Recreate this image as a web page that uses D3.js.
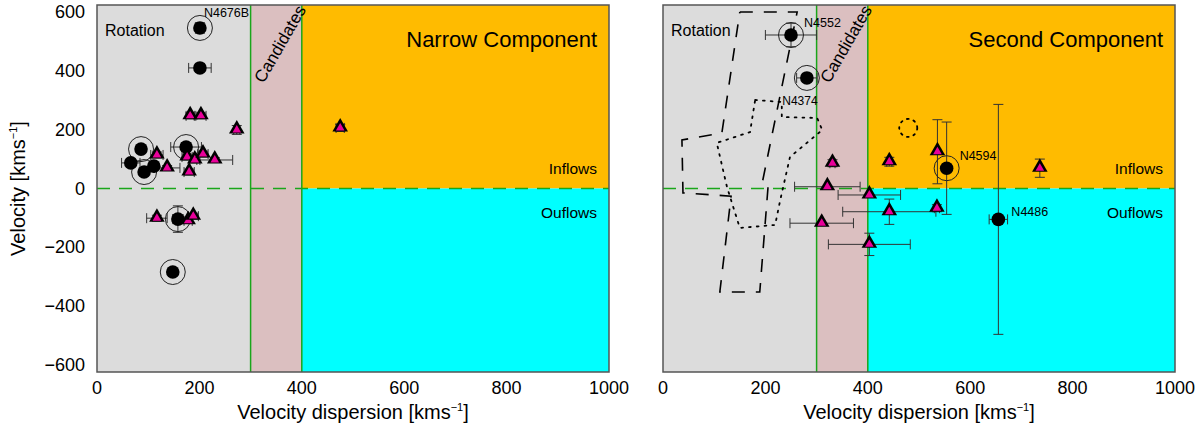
<!DOCTYPE html>
<html><head><meta charset="utf-8">
<script src="https://cdn.jsdelivr.net/npm/d3@7"></script>
<style>body{margin:0;background:#fff}svg{display:block}text{font-family:"Liberation Sans",Arial,Helvetica,sans-serif}</style>
</head><body><svg id="c" width="1200" height="431"></svg>
<script>
// ---------- data ----------
const xTicks = [0, 200, 400, 600, 800, 1000];
const yTicks = [600, 400, 200, 0, -200, -400, -600];
const rotationLimit = 300, candidateLimit = 400;
const panelTitles = ["Narrow Component", "Second Component"];

// x, y, xerr, yerr, ring, label
const narrowCircles = [
  {x:201, y:546, xe:0,  ye:18, ring:true,  label:"N4676B"},
  {x:201, y:410, xe:22, ye:0,  ring:false},
  {x:86,  y:134, xe:0,  ye:0,  ring:true},
  {x:66,  y:87,  xe:18, ye:0,  ring:false},
  {x:92,  y:56,  xe:0,  ye:0,  ring:true},
  {x:111, y:76,  xe:0,  ye:0,  ring:false},
  {x:174, y:141, xe:30, ye:15, ring:true},
  {x:158, y:-104,xe:10, ye:45, ring:true},
  {x:148, y:-284,xe:6,  ye:0,  ring:true}
];
const narrowTriangles = [
  {x:182, y:247, xe:8,  ye:10},
  {x:203, y:247, xe:10, ye:10},
  {x:273, y:199, xe:6,  ye:15},
  {x:117, y:114, xe:12, ye:10},
  {x:137, y:70,  xe:25, ye:8},
  {x:176, y:107, xe:10, ye:10},
  {x:191, y:97,  xe:10, ye:10},
  {x:207, y:117, xe:10, ye:10},
  {x:230, y:97,  xe:35, ye:8},
  {x:180, y:56,  xe:10, ye:10},
  {x:117, y:-101,xe:20, ye:10},
  {x:178, y:-110,xe:8,  ye:8},
  {x:188, y:-94, xe:10, ye:10},
  {x:475, y:206, xe:8,  ye:12}
];
const secondCircles = [
  {x:250, y:522, xe:50, ye:40,  ring:true,  label:"N4552"},
  {x:281, y:376, xe:20, ye:0,   ring:true},
  {x:554, y:69,  xe:8,  ye:157, ring:true,  label:"N4594"},
  {x:655, y:-105,xe:18, ye:391, ring:false, label:"N4486"}
];
const secondTriangles = [
  {x:331, y:86,  xe:5,  ye:12},
  {x:442, y:91,  xe:5,  ye:15},
  {x:536, y:125, xe:0,  ye:109},
  {x:321, y:6,   xe:64, ye:0},
  {x:403, y:-22, xe:61, ye:0},
  {x:442, y:-79, xe:91, ye:43},
  {x:535, y:-67, xe:5,  ye:12},
  {x:310, y:-118,xe:62, ye:0},
  {x:403, y:-190,xe:80, ye:38},
  {x:736, y:69,  xe:0,  ye:31}
];
// contours in the second panel
const dashedContour = [[150,600],[262,600],[193,12],[205,2],[189,-352],[111,-352],[133,-26],[39,-15],[37,165],[115,189],[150,600]];
const dottedContour = [[180,301],[232,294],[232,243],[301,240],[311,199],[248,107],[229,-39],[219,-124],[150,-134],[125,5],[105,155],[170,192],[180,301]];
const dottedCircle = {x:479, y:206};
const contourLabel = {x:233, y:285, text:"N4374"};

// ---------- drawing ----------
const svg = d3.select("#c");
const panels = [
  {x0:97,  circles:narrowCircles, tris:narrowTriangles, title:panelTitles[0], yLabels:true, extra:false},
  {x0:663, circles:secondCircles, tris:secondTriangles, title:panelTitles[1], yLabels:false, extra:true}
];
const W = 512, plotTop = 5, plotBottom = 372;
const y = d3.scaleLinear().domain([-624, 624]).range([plotBottom, plotTop]);

panels.forEach(p => {
  const x = d3.scaleLinear().domain([0, 1000]).range([p.x0, p.x0 + W]);
  const g = svg.append("g");
  // regions
  g.append("rect").attr("x", x(0)).attr("y", y(624)).attr("width", x(rotationLimit)-x(0)).attr("height", y(-624)-y(624)).attr("fill", "#dcdcdc");
  g.append("rect").attr("x", x(rotationLimit)).attr("y", y(624)).attr("width", x(candidateLimit)-x(rotationLimit)).attr("height", y(-624)-y(624)).attr("fill", "#dbbfc0");
  g.append("rect").attr("x", x(candidateLimit)).attr("y", y(624)).attr("width", x(1000)-x(candidateLimit)).attr("height", y(0)-y(624)).attr("fill", "#ffbb00");
  g.append("rect").attr("x", x(candidateLimit)).attr("y", y(0)).attr("width", x(1000)-x(candidateLimit)).attr("height", y(-624)-y(0)).attr("fill", "#00ffff");
  [rotationLimit, candidateLimit].forEach(v => g.append("line").attr("x1", x(v)).attr("x2", x(v)).attr("y1", y(624)).attr("y2", y(-624)).attr("stroke", "#1aa61a").attr("stroke-width", 1.5));
  g.append("line").attr("x1", x(0)).attr("x2", x(1000)).attr("y1", y(0)).attr("y2", y(0))
    .attr("stroke", "#1aa61a").attr("stroke-width", 1.5).attr("stroke-dasharray", "13,9");

  if (p.extra) {
    const line = d3.line().x(d => x(d[0])).y(d => y(d[1]));
    g.append("path").attr("d", line(dashedContour)).attr("fill", "none").attr("stroke", "#000").attr("stroke-width", 1.6).attr("stroke-dasharray", "13,11");
    g.append("path").attr("d", line(dottedContour)).attr("fill", "none").attr("stroke", "#000").attr("stroke-width", 1.8).attr("stroke-dasharray", "1.8,6").attr("stroke-linecap","round");
    g.append("circle").attr("cx", x(dottedCircle.x)).attr("cy", y(dottedCircle.y)).attr("r", 9).attr("fill", "none").attr("stroke", "#000").attr("stroke-width", 1.8).attr("stroke-dasharray", "1.8,5").attr("stroke-linecap","round");
    g.append("text").attr("x", x(contourLabel.x)).attr("y", y(contourLabel.y)).attr("font-size", 12).text(contourLabel.text);
  }

  // error bars
  const all = p.circles.concat(p.tris);
  const eb = g.append("g").attr("stroke", "#333").attr("stroke-width", 1).attr("fill", "none");
  const cap = 5;
  all.forEach(d => {
    if (d.xe > 0) {
      eb.append("line").attr("x1", x(d.x-d.xe)).attr("x2", x(d.x+d.xe)).attr("y1", y(d.y)).attr("y2", y(d.y));
      [d.x-d.xe, d.x+d.xe].forEach(v => eb.append("line").attr("x1", x(v)).attr("x2", x(v)).attr("y1", y(d.y)-cap).attr("y2", y(d.y)+cap));
    }
    if (d.ye > 0) {
      eb.append("line").attr("x1", x(d.x)).attr("x2", x(d.x)).attr("y1", y(d.y-d.ye)).attr("y2", y(d.y+d.ye));
      [d.y-d.ye, d.y+d.ye].forEach(v => eb.append("line").attr("y1", y(v)).attr("y2", y(v)).attr("x1", x(d.x)-cap).attr("x2", x(d.x)+cap));
    }
  });

  // rings and dots
  p.circles.forEach(d => {
    if (d.ring) g.append("circle").attr("cx", x(d.x)).attr("cy", y(d.y)).attr("r", 12.5).attr("fill", "none").attr("stroke", "#222").attr("stroke-width", 1);
  });
  p.circles.forEach(d => {
    g.append("circle").attr("cx", x(d.x)).attr("cy", y(d.y)).attr("r", 6.8).attr("fill", "#000");
  });
  // triangles
  const outer = d3.symbol().type(d3.symbolTriangle).size(105)();
  const inner = d3.symbol().type(d3.symbolTriangle).size(32)();
  p.tris.forEach(d => {
    const t = g.append("g").attr("transform", `translate(${x(d.x)},${y(d.y)-1})`);
    t.append("path").attr("d", outer).attr("fill", "#000");
    t.append("path").attr("d", inner).attr("transform", "translate(0,1)").attr("fill", "#e8009a");
  });
  // point labels
  p.circles.filter(d => d.label).forEach(d => {
    const lx = d.label === "N4676B" ? 4 : 13, ly = d.label === "N4676B" ? -11 : (d.label === "N4486" ? -3 : -8);
    g.append("text").attr("x", x(d.x)+lx).attr("y", y(d.y)+ly).attr("font-size", 12.5).text(d.label);
  });

  // region labels
  g.append("text").attr("x", p.x0+8).attr("y", 36).attr("font-size", 16).text("Rotation");
  g.append("text").attr("transform", `translate(${x(rotationLimit)+13},${84}) rotate(-60)`).attr("font-size", 17).text("Candidates");
  g.append("text").attr("x", x(1000)-12).attr("y", 47).attr("text-anchor", "end").attr("font-size", 22).text(p.title);
  g.append("text").attr("x", x(1000)-12).attr("y", 174).attr("text-anchor", "end").attr("font-size", 15.5).text("Inflows");
  g.append("text").attr("x", x(1000)-12).attr("y", 218).attr("text-anchor", "end").attr("font-size", 15.5).text("Ouflows");

  // frame
  g.append("rect").attr("x", x(0)).attr("y", plotTop).attr("width", W).attr("height", plotBottom-plotTop).attr("fill", "none").attr("stroke", "#555").attr("stroke-width", 1.5);

  // axes tick labels
  g.selectAll(".xt").data(xTicks).enter().append("text").attr("x", d => x(d)).attr("y", 394).attr("text-anchor", "middle").attr("font-size", 18).text(d => d);
  if (p.yLabels) {
    g.selectAll(".yt").data(yTicks).enter().append("text").attr("x", 85).attr("y", d => y(d)+6).attr("text-anchor", "end").attr("font-size", 18).text(d => d < 0 ? "\u2212" + Math.abs(d) : d);
  }
  const xt = g.append("text").attr("x", p.x0 + W/2).attr("y", 419).attr("text-anchor", "middle").attr("font-size", 20);
  xt.append("tspan").text("Velocity dispersion [kms");
  xt.append("tspan").attr("font-size", 11).attr("dy", -8).text("\u22121");
  xt.append("tspan").attr("dy", 8).text("]");
});
const yt = svg.append("text").attr("transform", `translate(25,${y(0)}) rotate(-90)`).attr("text-anchor", "middle").attr("font-size", 20);
yt.append("tspan").text("Velocity [kms");
yt.append("tspan").attr("font-size", 11).attr("dy", -8).text("\u22121");
yt.append("tspan").attr("dy", 8).text("]");
</script></body></html>
